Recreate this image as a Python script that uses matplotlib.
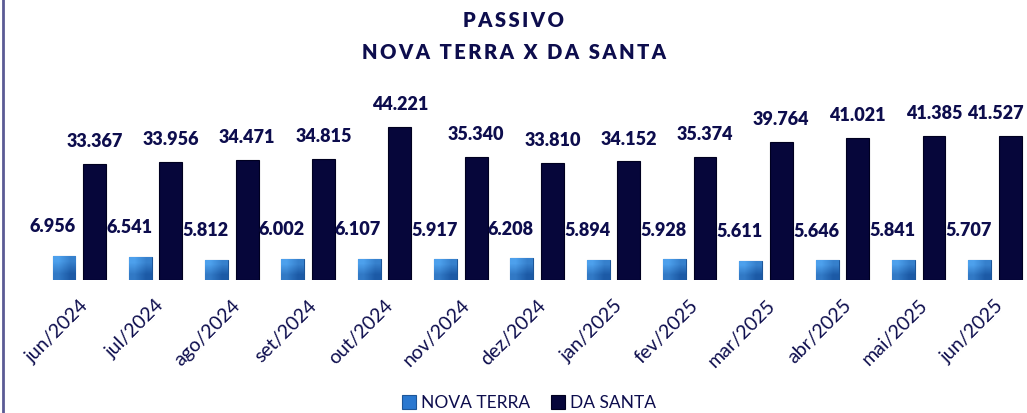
import matplotlib
matplotlib.use("Agg")
import matplotlib.pyplot as plt
import numpy as np

plt.rcParams['font.family'] = ['Lato', 'DejaVu Sans']

# dados do gráfico
meses = ["jun/2024", "jul/2024", "ago/2024", "set/2024", "out/2024", "nov/2024",
         "dez/2024", "jan/2025", "fev/2025", "mar/2025", "abr/2025", "mai/2025",
         "jun/2025"]
nova_terra = [6956, 6541, 5812, 6002, 6107, 5917, 6208, 5894, 5928, 5611, 5646, 5841, 5707]
da_santa = [33367, 33956, 34471, 34815, 44221, 35340, 33810, 34152, 35374, 39764,
            41021, 41385, 41527]

NAVY = "#0d0d4d"
COR_NT = "#2a78d0"
COR_DS = "#06063a"


def fmt(v):
    return f"{v:,}".replace(",", ".")


def espacado(txt):
    return "\u2009".join(txt)


fig = plt.figure(figsize=(10.27, 4.13), dpi=100)
ax = fig.add_axes([0.04, 0.322, 0.966, 0.50])

x = np.arange(len(meses))
w = 0.30
b1 = ax.bar(x - 0.2, nova_terra, w, color=COR_NT, edgecolor="#1d5699",
            linewidth=0.8, label="NOVA TERRA")
b2 = ax.bar(x + 0.2, da_santa, w, color=COR_DS, edgecolor="#000020",
            linewidth=0.8, label="DA SANTA")

# leve degradê nas barras azuis (efeito 3D do Excel)
grad = np.array([[0.0, 0.45], [0.55, 1.0]])
cmap = matplotlib.colors.LinearSegmentedColormap.from_list("nt", ["#4da0ec", "#1c5aa6"])
for r in b1:
    x0, y0 = r.get_x(), r.get_y()
    im = ax.imshow(grad, cmap=cmap, extent=(x0, x0 + r.get_width(), y0, y0 + r.get_height()),
                   origin="upper", aspect="auto", interpolation="bilinear", zorder=r.get_zorder())
    im.set_clip_path(r)

n = len(meses)
for i, (xi, v) in enumerate(zip(x, da_santa)):
    dx = -11 if i == n - 1 else 0  # último rótulo puxado p/ dentro
    ax.annotate(fmt(v), (xi + 0.2, v), xytext=(dx, 10), textcoords="offset points",
                ha="center", va="bottom", fontsize=13, fontweight="heavy", color=NAVY)
for xi, v in zip(x, nova_terra):
    ax.annotate(fmt(v), (xi - 0.2, v), xytext=(-8, 15), textcoords="offset points",
                ha="center", va="bottom", fontsize=13, fontweight="heavy", color=NAVY)

ax.set_xlim(-0.5, n - 0.5)
ax.set_ylim(0, 59500)
ax.set_xticks(x)
ax.set_xticklabels(meses, rotation=45, ha="right", rotation_mode="anchor",
                   fontsize=14, color=NAVY)
ax.tick_params(axis="x", length=0, pad=12)
ax.set_yticks([])
for s in ax.spines.values():
    s.set_visible(False)

fig.text(0.5, 0.95, espacado("PASSIVO"), ha="center", va="center",
         fontsize=14.5, fontweight="heavy", color=NAVY)
fig.text(0.5, 0.872, espacado("NOVA TERRA X DA SANTA"), ha="center", va="center",
         fontsize=14.5, fontweight="heavy", color=NAVY)

fig.legend(handles=[b1, b2], loc="center", bbox_to_anchor=(0.515, 0.024), ncol=2,
           frameon=False, fontsize=12.5, handlelength=0.8, handleheight=0.8,
           handletextpad=0.3, columnspacing=1.2, labelcolor=NAVY)

fig.add_artist(plt.Line2D([0.0025, 0.0025], [0, 1], color="#5b5b95", linewidth=2,
                          transform=fig.transFigure))

fig.savefig("out.png", dpi=100, facecolor="white")
